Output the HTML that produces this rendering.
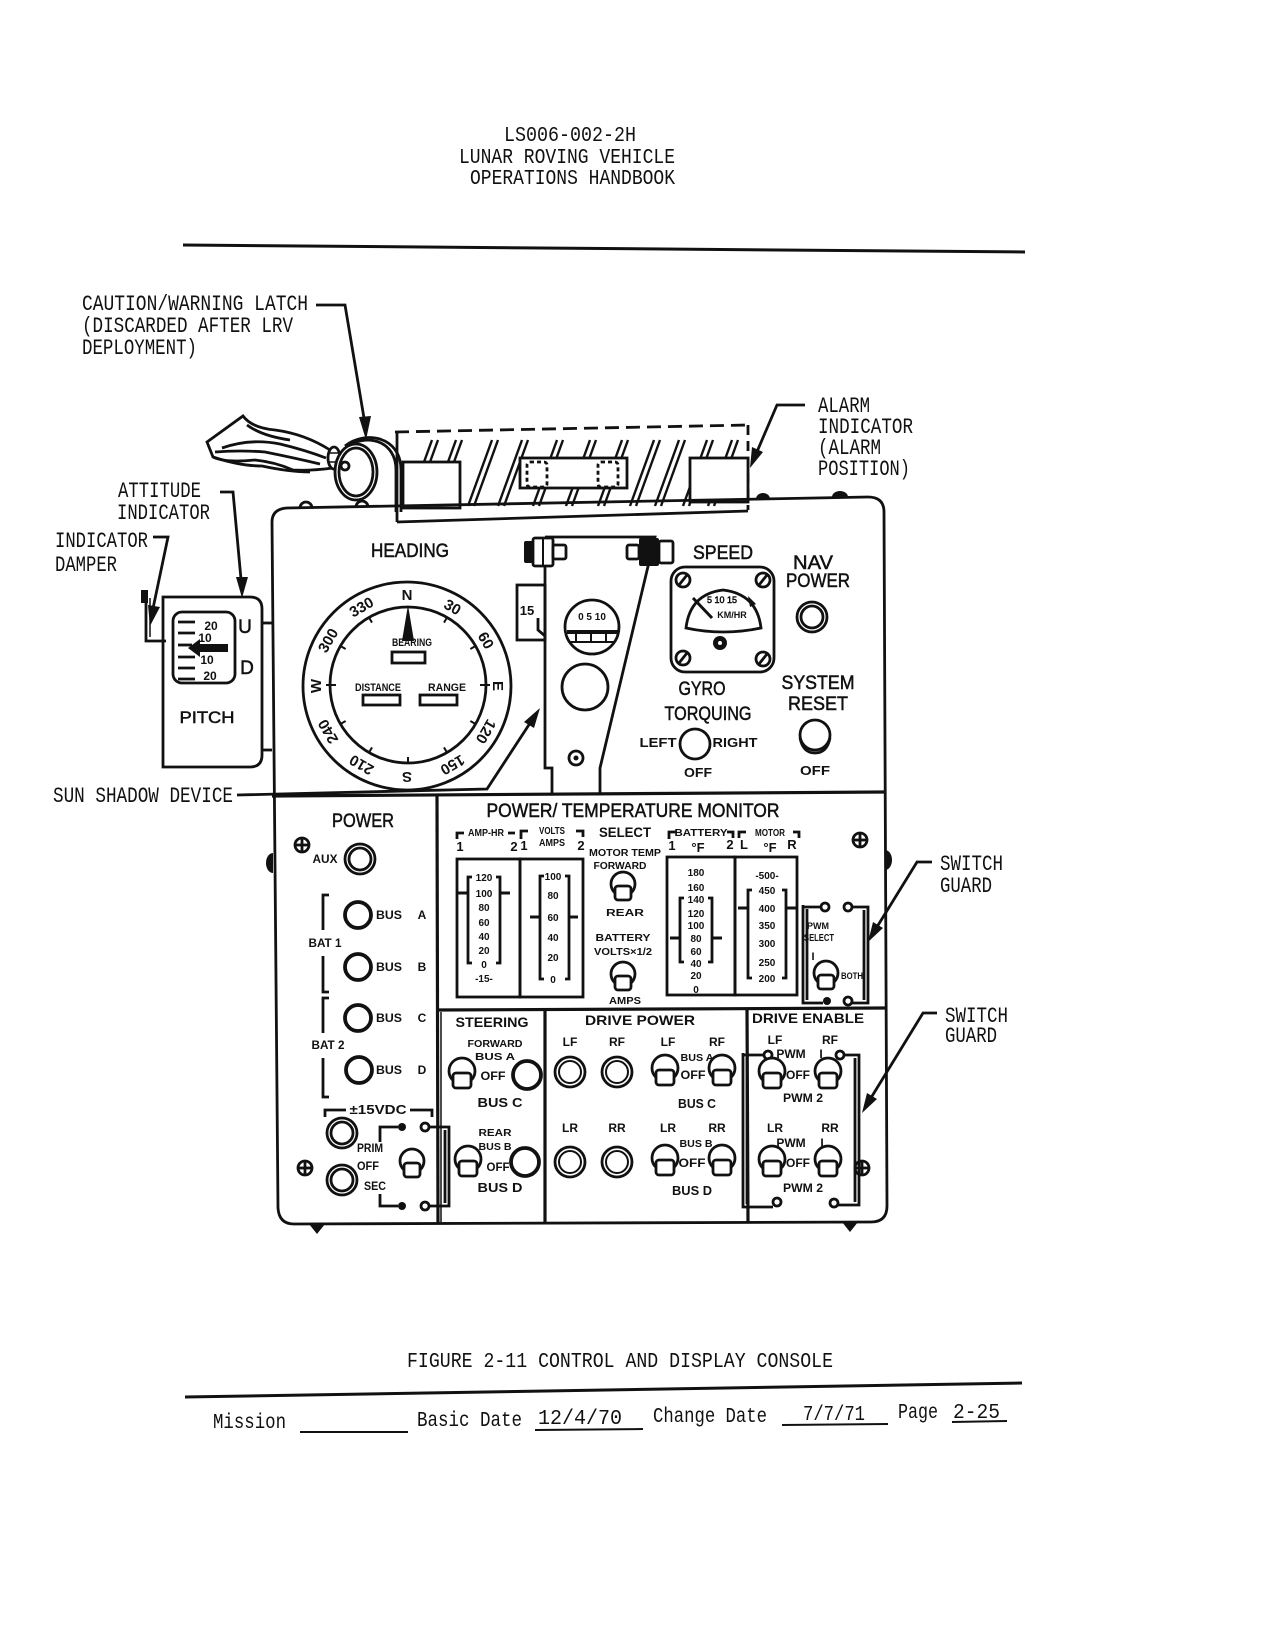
<!DOCTYPE html>
<html>
<head>
<meta charset="utf-8">
<style>
html,body{margin:0;padding:0;background:#fff;}
svg{display:block;}
.m{font-family:"Liberation Mono",monospace;font-size:21px;fill:#111;}
.ml{font-family:"Liberation Mono",monospace;font-size:22px;fill:#111;}
.s{font-family:"Liberation Sans",sans-serif;fill:#111;stroke:#111;stroke-width:0.5;}
.b{font-family:"Liberation Sans",sans-serif;fill:#111;font-weight:bold;}
.k{stroke:#111;fill:none;stroke-width:2.8;}
.w{stroke:#111;fill:#fff;stroke-width:2.8;}
.t{stroke:#111;fill:#fff;stroke-width:3.8;}
.f{fill:#111;stroke:none;}
</style>
</head>
<body>
<svg width="1275" height="1650" viewBox="0 0 1275 1650" xmlns="http://www.w3.org/2000/svg">
<rect x="0" y="0" width="1275" height="1650" fill="#fff"/>

<!-- Header -->
<text class="m" x="504" y="141" textLength="132" lengthAdjust="spacingAndGlyphs">LS006-002-2H</text>
<text class="m" x="459" y="163" textLength="216" lengthAdjust="spacingAndGlyphs">LUNAR ROVING VEHICLE</text>
<text class="m" x="470" y="184" textLength="205" lengthAdjust="spacingAndGlyphs">OPERATIONS HANDBOOK</text>
<line x1="183" y1="245" x2="1025" y2="252" stroke="#111" stroke-width="3"/>

<!-- Callout labels -->
<text class="ml" x="82" y="310" textLength="226" lengthAdjust="spacingAndGlyphs">CAUTION/WARNING LATCH</text>
<text class="ml" x="82" y="332" textLength="211" lengthAdjust="spacingAndGlyphs">(DISCARDED AFTER LRV</text>
<text class="ml" x="82" y="354" textLength="115" lengthAdjust="spacingAndGlyphs">DEPLOYMENT)</text>
<polyline points="316,305 345,305 366,430" class="k"/>
<polygon points="366,440 359,417 371,416" class="f"/>

<text class="ml" x="118" y="497" textLength="83" lengthAdjust="spacingAndGlyphs">ATTITUDE</text>
<text class="ml" x="117" y="519" textLength="93" lengthAdjust="spacingAndGlyphs">INDICATOR</text>
<polyline points="220,492 233,492 242,590" class="k"/>
<polygon points="242,598 236,577 248,577" class="f"/>

<text class="ml" x="55" y="547" textLength="93" lengthAdjust="spacingAndGlyphs">INDICATOR</text>
<text class="ml" x="55" y="571" textLength="62" lengthAdjust="spacingAndGlyphs">DAMPER</text>
<polyline points="153,537 168,537 151,618" class="k"/>
<polygon points="150,626 160,607 148,605" class="f"/>

<text class="ml" x="53" y="802" textLength="180" lengthAdjust="spacingAndGlyphs">SUN SHADOW DEVICE</text>
<polyline points="237,795 487,789 536,714" class="k"/>
<polygon points="540,708 534,728 524,722" class="f"/>

<text class="ml" x="818" y="412" textLength="52" lengthAdjust="spacingAndGlyphs">ALARM</text>
<text class="ml" x="818" y="433" textLength="95" lengthAdjust="spacingAndGlyphs">INDICATOR</text>
<text class="ml" x="818" y="454" textLength="63" lengthAdjust="spacingAndGlyphs">(ALARM</text>
<text class="ml" x="818" y="475" textLength="92" lengthAdjust="spacingAndGlyphs">POSITION)</text>
<polyline points="805,405 777,405 753,461" class="k"/>
<polygon points="750,468 763,452 752,447" class="f"/>

<text class="ml" x="940" y="870" textLength="63" lengthAdjust="spacingAndGlyphs">SWITCH</text>
<text class="ml" x="940" y="892" textLength="52" lengthAdjust="spacingAndGlyphs">GUARD</text>
<polyline points="932,862 917,862 872,935" class="k"/>
<polygon points="868,942 883,928 873,922" class="f"/>

<text class="ml" x="945" y="1022" textLength="63" lengthAdjust="spacingAndGlyphs">SWITCH</text>
<text class="ml" x="945" y="1042" textLength="52" lengthAdjust="spacingAndGlyphs">GUARD</text>
<polyline points="937,1013 923,1013 866,1106" class="k"/>
<polygon points="862,1113 877,1099 867,1093" class="f"/>

<!-- Ribbon / latch -->
<path d="M207 442 L243 416 Q252 428 275 430 Q305 434 330 450 L333 468 Q310 471 293 470 Q275 462 255 460 Q225 463 213 457 Z" class="w" stroke-width="3"/>
<path d="M222 448 Q250 438 280 444 Q305 450 326 458" class="k" stroke-width="2"/>
<path d="M215 452 Q240 450 265 452 Q295 458 320 464" class="k" stroke-width="2"/>
<path d="M247 425 Q262 436 290 440" class="k" stroke-width="1.8"/>
<path d="M213 457 Q240 466 262 466 Q290 472 310 472" class="k" stroke-width="3"/>
<ellipse cx="334" cy="458" rx="6" ry="11" class="w"/>
<line x1="329" y1="453" x2="339" y2="453" stroke="#111" stroke-width="1.5"/>
<line x1="329" y1="462" x2="339" y2="462" stroke="#111" stroke-width="1.5"/>
<path d="M345 446 C365 430 401 436 401 470 L401 512" class="k"/>
<path d="M350 445 C368 434 396 441 396 470 L396 512" class="k" stroke-width="2"/>
<ellipse cx="356" cy="472" rx="21" ry="28" class="w"/>
<ellipse cx="356" cy="472" rx="17" ry="24" class="k" stroke-width="2"/>
<circle cx="345" cy="466" r="4" class="w" stroke-width="2"/>

<!-- Alarm housing -->
<g stroke="#111" stroke-width="2.8" fill="none">
<line x1="395" y1="432" x2="748" y2="425" stroke-dasharray="14 7"/>
<line x1="748" y1="425" x2="748" y2="510" stroke-dasharray="10 6"/>
<line x1="397" y1="432" x2="397" y2="522"/>
<line x1="397" y1="522" x2="748" y2="511"/>
</g>
<g stroke="#111" stroke-width="2.4">
<line x1="408" y1="506" x2="432" y2="440"/><line x1="414" y1="506" x2="438" y2="440"/>
<line x1="432" y1="506" x2="456" y2="440"/><line x1="438" y1="506" x2="462" y2="440"/>
<line x1="468" y1="506" x2="492" y2="440"/><line x1="474" y1="506" x2="498" y2="440"/>
<line x1="498" y1="506" x2="522" y2="440"/><line x1="504" y1="506" x2="528" y2="440"/>
<line x1="533" y1="506" x2="557" y2="440"/><line x1="539" y1="506" x2="563" y2="440"/>
<line x1="566" y1="506" x2="590" y2="440"/><line x1="572" y1="506" x2="596" y2="440"/>
<line x1="598" y1="506" x2="622" y2="440"/><line x1="604" y1="506" x2="628" y2="440"/>
<line x1="630" y1="506" x2="654" y2="440"/><line x1="636" y1="506" x2="660" y2="440"/>
<line x1="655" y1="506" x2="679" y2="440"/><line x1="661" y1="506" x2="685" y2="440"/>
<line x1="683" y1="506" x2="707" y2="440"/><line x1="689" y1="506" x2="713" y2="440"/>
<line x1="708" y1="506" x2="732" y2="440"/><line x1="714" y1="506" x2="738" y2="440"/>
</g>
<rect x="403" y="462" width="57" height="46" class="w"/>
<rect x="690" y="458" width="58" height="44" class="w"/>
<rect x="520" y="458" width="107" height="30" class="w"/>
<rect x="527" y="462" width="20" height="25" rx="3" class="k" stroke-width="2" stroke-dasharray="4 3"/>
<rect x="598" y="462" width="20" height="25" rx="3" class="k" stroke-width="2" stroke-dasharray="4 3"/>

<!-- Console outline -->
<path d="M287 508 L868 497 Q884 497 884 512 L887 1206 Q887 1222 871 1222 L294 1224 Q279 1224 278 1208 L272 522 Q272 509 287 508 Z" class="k" stroke-width="3.2"/>
<path d="M300 508 A6 6 0 0 1 312 508" class="k"/>
<path d="M356 507 A6 6 0 0 1 368 507" class="k"/>
<path d="M756 499 A7 6 0 0 1 770 499" class="f"/>
<path d="M832 497 A8 6 0 0 1 848 497" class="f"/>
<path d="M885 850 A7 10 0 0 1 885 870 Z" class="f"/>
<path d="M273 853 A7 10 0 0 0 273 873 Z" class="f"/>
<path d="M309 1224 L325 1224 L317 1234 Z" class="f"/>
<path d="M842 1222 L858 1222 L850 1232 Z" class="f"/>

<!-- Dividers -->
<g stroke="#111" stroke-width="3.2">
<line x1="272" y1="796" x2="884" y2="792"/>
<line x1="437" y1="795" x2="438" y2="1224"/>
<line x1="437" y1="1010" x2="885" y2="1008"/>
<line x1="545" y1="1010" x2="545" y2="1223"/>
<line x1="747" y1="1008" x2="748" y2="1223"/>
</g>
<line x1="441" y1="1012" x2="441" y2="1222" stroke="#111" stroke-width="1.5"/>

<!-- Attitude indicator -->
<path d="M163 597 L250 597 Q262 597 262 609 L262 755 Q262 767 250 767 L163 767 Z" class="w" stroke-width="3.2"/>
<line x1="262" y1="623" x2="272" y2="623" stroke="#111" stroke-width="2.8"/>
<line x1="262" y1="750" x2="272" y2="750" stroke="#111" stroke-width="2.8"/>
<rect x="173" y="612" width="62" height="71" rx="9" class="k"/>
<g stroke="#111" stroke-width="2.8">
<line x1="178" y1="622" x2="195" y2="622"/><line x1="178" y1="633" x2="195" y2="633"/>
<line x1="178" y1="645" x2="192" y2="645"/><line x1="178" y1="657" x2="195" y2="657"/>
<line x1="178" y1="668" x2="195" y2="668"/><line x1="178" y1="679" x2="195" y2="679"/>
</g>
<polygon points="188,648 200,639 200,644 228,644 228,652 200,652 200,657" class="f"/>
<text class="b" x="211" y="630" font-size="12" text-anchor="middle">20</text>
<text class="b" x="205" y="642" font-size="12" text-anchor="middle">10</text>
<text class="b" x="207" y="664" font-size="12" text-anchor="middle">10</text>
<text class="b" x="210" y="680" font-size="12" text-anchor="middle">20</text>
<text class="s" x="245" y="633" font-size="19" text-anchor="middle">U</text>
<text class="s" x="247" y="674" font-size="19" text-anchor="middle">D</text>
<text class="s" x="207" y="723" font-size="17" text-anchor="middle" textLength="55" lengthAdjust="spacingAndGlyphs">PITCH</text>
<path d="M146 592 L146 641 L166 641" class="k"/>
<line x1="150" y1="598" x2="150" y2="637" stroke="#111" stroke-width="1.5"/>
<rect x="141" y="590" width="7" height="13" class="f"/>

<!-- Heading / compass -->
<text class="s" x="410" y="557" font-size="19" text-anchor="middle" textLength="78" lengthAdjust="spacingAndGlyphs">HEADING</text>
<circle cx="407" cy="686" r="104" class="k" stroke-width="3.2"/>
<circle cx="408" cy="685" r="78" class="k" stroke-width="2.8"/>
<g stroke="#111" stroke-width="2">
<line x1="408" y1="607" x2="408" y2="613" transform="rotate(30 408 685)"/>
<line x1="408" y1="607" x2="408" y2="613" transform="rotate(60 408 685)"/>
<line x1="408" y1="603" x2="408" y2="613" transform="rotate(90 408 685)"/>
<line x1="408" y1="607" x2="408" y2="613" transform="rotate(120 408 685)"/>
<line x1="408" y1="607" x2="408" y2="613" transform="rotate(150 408 685)"/>
<line x1="408" y1="607" x2="408" y2="613" transform="rotate(180 408 685)"/>
<line x1="408" y1="607" x2="408" y2="613" transform="rotate(210 408 685)"/>
<line x1="408" y1="607" x2="408" y2="613" transform="rotate(240 408 685)"/>
<line x1="408" y1="603" x2="408" y2="613" transform="rotate(270 408 685)"/>
<line x1="408" y1="607" x2="408" y2="613" transform="rotate(300 408 685)"/>
<line x1="408" y1="607" x2="408" y2="613" transform="rotate(330 408 685)"/>
</g>
<g class="b" font-size="15" text-anchor="middle">
<text x="407" y="600">N</text>
<text x="407" y="600" transform="rotate(30 407 686)">30</text>
<text x="407" y="600" transform="rotate(60 407 686)">60</text>
<text x="407" y="600" transform="rotate(90 407 686)">E</text>
<text x="407" y="600" transform="rotate(120 407 686)">120</text>
<text x="407" y="600" transform="rotate(150 407 686)">150</text>
<text x="407" y="600" transform="rotate(180 407 686)">S</text>
<text x="407" y="600" transform="rotate(210 407 686)">210</text>
<text x="407" y="600" transform="rotate(240 407 686)">240</text>
<text x="407" y="600" transform="rotate(270 407 686)">W</text>
<text x="407" y="600" transform="rotate(300 407 686)">300</text>
<text x="407" y="600" transform="rotate(330 407 686)">330</text>
</g>
<polygon points="408,605 402,641 414,641" class="f"/>
<text class="b" x="412" y="646" font-size="11" text-anchor="middle" textLength="40" lengthAdjust="spacingAndGlyphs">BEARING</text>
<rect x="392" y="652" width="33" height="11" class="k" stroke-width="2.2"/>
<text class="b" x="378" y="691" font-size="11" text-anchor="middle" textLength="46" lengthAdjust="spacingAndGlyphs">DISTANCE</text>
<rect x="363" y="695" width="37" height="10" class="k" stroke-width="2.2"/>
<text class="b" x="447" y="691" font-size="11" text-anchor="middle" textLength="38" lengthAdjust="spacingAndGlyphs">RANGE</text>
<rect x="420" y="695" width="37" height="10" class="k" stroke-width="2.2"/>

<!-- 15 box -->
<rect x="517" y="585" width="28" height="55" class="k"/>
<text class="b" x="527" y="615" font-size="13" text-anchor="middle">15</text>
<path d="M538 618 L538 630 L545 636" class="k" stroke-width="2"/>

<!-- Sun shadow plate -->
<path d="M545 537 L655 537 L600 768 L600 795 M545 537 L545 768 L552 768 L552 795" class="k" stroke-width="2.8"/>
<rect x="524" y="541" width="9" height="22" rx="2" class="f"/>
<rect x="533" y="538" width="20" height="28" rx="2" class="w" stroke-width="3"/>
<line x1="543" y1="538" x2="543" y2="566" stroke="#111" stroke-width="2"/>
<rect x="553" y="545" width="13" height="14" rx="2" class="w"/>
<rect x="627" y="545" width="12" height="14" rx="2" class="w"/>
<rect x="639" y="538" width="20" height="28" rx="2" class="f"/>
<rect x="659" y="541" width="14" height="22" rx="2" class="w" stroke-width="3"/>
<circle cx="592" cy="627" r="27" class="w" stroke-width="3.2"/>
<text class="b" x="592" y="620" font-size="10" text-anchor="middle">0  5 10</text>
<line x1="567" y1="632" x2="618" y2="632" stroke="#111" stroke-width="4"/>
<g stroke="#111" stroke-width="2"><line x1="576" y1="632" x2="576" y2="642"/><line x1="591" y1="632" x2="591" y2="642"/><line x1="606" y1="632" x2="606" y2="642"/><line x1="570" y1="642" x2="614" y2="642"/></g>
<circle cx="585" cy="687" r="23" class="k"/>
<circle cx="576" cy="758" r="7" class="k"/>
<circle cx="576" cy="758" r="2.5" class="f"/>

<!-- Speed gauge -->
<text class="s" x="723" y="559" font-size="19" text-anchor="middle" textLength="60" lengthAdjust="spacingAndGlyphs">SPEED</text>
<rect x="671" y="567" width="103" height="105" rx="14" class="k" stroke-width="3.2"/>
<g class="k" stroke-width="2.4">
<circle cx="683" cy="580" r="7"/><line x1="679" y1="585" x2="687" y2="575"/>
<circle cx="763" cy="580" r="7"/><line x1="759" y1="585" x2="767" y2="575"/>
<circle cx="683" cy="658" r="7"/><line x1="679" y1="663" x2="687" y2="653"/>
<circle cx="763" cy="659" r="7"/><line x1="759" y1="664" x2="767" y2="654"/>
</g>
<path d="M686 628 Q690 594 723 590 Q757 594 761 628 Q723 636 686 628 Z" class="k" stroke-width="2.8"/>
<text class="s" x="722" y="603" font-size="9" text-anchor="middle" stroke-width="0.2">5 10 15</text>
<text class="b" x="732" y="618" font-size="9" text-anchor="middle">KM/HR</text>
<line x1="693" y1="598" x2="712" y2="618" stroke="#111" stroke-width="3"/>
<polygon points="748,596 756,604 750,607" class="f"/>
<circle cx="720" cy="643" r="7" class="f"/>
<circle cx="720" cy="643" r="2" fill="#fff"/>

<!-- Nav power / system reset / gyro -->
<text class="s" x="813" y="569" font-size="19" text-anchor="middle" textLength="40" lengthAdjust="spacingAndGlyphs">NAV</text>
<text class="s" x="818" y="587" font-size="19" text-anchor="middle" textLength="64" lengthAdjust="spacingAndGlyphs">POWER</text>
<circle cx="812" cy="617" r="15" class="k"/>
<circle cx="812" cy="617" r="11" class="k" stroke-width="2"/>
<text class="s" x="702" y="695" font-size="19" text-anchor="middle" textLength="47" lengthAdjust="spacingAndGlyphs">GYRO</text>
<text class="s" x="708" y="720" font-size="19" text-anchor="middle" textLength="87" lengthAdjust="spacingAndGlyphs">TORQUING</text>
<text class="s" x="818" y="689" font-size="19" text-anchor="middle" textLength="73" lengthAdjust="spacingAndGlyphs">SYSTEM</text>
<text class="s" x="818" y="710" font-size="19" text-anchor="middle" textLength="60" lengthAdjust="spacingAndGlyphs">RESET</text>
<text class="b" x="658" y="747" font-size="13" text-anchor="middle" textLength="37" lengthAdjust="spacingAndGlyphs">LEFT</text>
<circle cx="695" cy="744" r="15" class="k"/>
<text class="b" x="735" y="747" font-size="13" text-anchor="middle" textLength="45" lengthAdjust="spacingAndGlyphs">RIGHT</text>
<text class="b" x="698" y="777" font-size="13" text-anchor="middle" textLength="28" lengthAdjust="spacingAndGlyphs">OFF</text>
<circle cx="815" cy="735" r="15" class="k"/>
<path d="M800 738 Q803 753 815 753 Q827 753 830 738" class="k" stroke-width="3.8"/>
<text class="b" x="815" y="775" font-size="13" text-anchor="middle" textLength="30" lengthAdjust="spacingAndGlyphs">OFF</text>

<!-- Power section -->
<text class="s" x="363" y="827" font-size="19" text-anchor="middle" textLength="62" lengthAdjust="spacingAndGlyphs">POWER</text>
<g class="k" stroke-width="2">
<circle cx="302" cy="845" r="7"/><line x1="295" y1="845" x2="309" y2="845"/><line x1="302" y1="838" x2="302" y2="852"/>
<circle cx="305" cy="1168" r="7"/><line x1="298" y1="1168" x2="312" y2="1168"/><line x1="305" y1="1161" x2="305" y2="1175"/>
<circle cx="860" cy="840" r="7"/><line x1="853" y1="840" x2="867" y2="840"/><line x1="860" y1="833" x2="860" y2="847"/>
<circle cx="862" cy="1168" r="7"/><line x1="855" y1="1168" x2="869" y2="1168"/><line x1="862" y1="1161" x2="862" y2="1175"/>
</g>
<text class="b" x="325" y="863" font-size="12" text-anchor="middle" textLength="25" lengthAdjust="spacingAndGlyphs">AUX</text>
<circle cx="360" cy="859" r="15" class="k"/>
<circle cx="360" cy="859" r="11" class="k" stroke-width="2"/>
<circle cx="358" cy="915" r="13" class="t"/>
<circle cx="358" cy="967" r="13" class="t"/>
<circle cx="358" cy="1018" r="13" class="t"/>
<circle cx="359" cy="1070" r="13" class="t"/>
<g class="b" font-size="12" text-anchor="middle">
<text x="389" y="919" textLength="26" lengthAdjust="spacingAndGlyphs">BUS</text><text x="422" y="919">A</text>
<text x="389" y="971" textLength="26" lengthAdjust="spacingAndGlyphs">BUS</text><text x="422" y="971">B</text>
<text x="389" y="1022" textLength="26" lengthAdjust="spacingAndGlyphs">BUS</text><text x="422" y="1022">C</text>
<text x="389" y="1074" textLength="26" lengthAdjust="spacingAndGlyphs">BUS</text><text x="422" y="1074">D</text>
<text x="325" y="947" textLength="33" lengthAdjust="spacingAndGlyphs">BAT 1</text>
<text x="328" y="1049" textLength="33" lengthAdjust="spacingAndGlyphs">BAT 2</text>
</g>
<path d="M329 895 L323 895 L323 930 M323 956 L323 992 L329 992" class="k"/>
<path d="M329 998 L323 998 L323 1033 M323 1058 L323 1097 L329 1097" class="k"/>
<text class="b" x="378" y="1114" font-size="13" text-anchor="middle" textLength="57" lengthAdjust="spacingAndGlyphs">±15VDC</text>
<path d="M325 1117 L325 1110 L346 1110 M410 1110 L432 1110 L432 1117" class="k" stroke-width="2"/>
<circle cx="342" cy="1133" r="15" class="k"/>
<circle cx="342" cy="1133" r="11" class="k" stroke-width="2"/>
<circle cx="342" cy="1180" r="15" class="k"/>
<circle cx="342" cy="1180" r="11" class="k" stroke-width="2"/>
<text class="b" x="370" y="1152" font-size="12" text-anchor="middle" textLength="26" lengthAdjust="spacingAndGlyphs">PRIM</text>
<text class="b" x="368" y="1170" font-size="12" text-anchor="middle" textLength="22" lengthAdjust="spacingAndGlyphs">OFF</text>
<text class="b" x="375" y="1190" font-size="12" text-anchor="middle" textLength="22" lengthAdjust="spacingAndGlyphs">SEC</text>
<!-- guard left power -->
<path d="M380 1142 L380 1127 L398 1127 M380 1194 L380 1206 L398 1206" class="k"/>
<circle cx="402" cy="1127" r="4" class="f"/><circle cx="402" cy="1206" r="4" class="f"/>
<circle cx="425" cy="1127" r="4" class="k" stroke-width="2"/><circle cx="425" cy="1206" r="4" class="k" stroke-width="2"/>
<path d="M429 1127 L449 1127 L449 1206 L429 1206 M445 1130 L445 1203" class="k"/>
<circle cx="412" cy="1161" r="12" class="w"/><rect x="404" y="1163" width="16" height="14" rx="3" class="w"/>

<!-- Power/Temperature monitor -->
<text class="s" x="633" y="817" font-size="19" text-anchor="middle" textLength="293" lengthAdjust="spacingAndGlyphs">POWER/ TEMPERATURE MONITOR</text>
<g class="b" font-size="10" text-anchor="middle">
<text x="486" y="836" textLength="36" lengthAdjust="spacingAndGlyphs">AMP-HR</text>
<text x="552" y="834" textLength="26" lengthAdjust="spacingAndGlyphs">VOLTS</text>
<text x="552" y="846" textLength="26" lengthAdjust="spacingAndGlyphs">AMPS</text>
<text x="625" y="856" textLength="72" lengthAdjust="spacingAndGlyphs">MOTOR TEMP</text>
<text x="620" y="869" textLength="53" lengthAdjust="spacingAndGlyphs">FORWARD</text>
<text x="625" y="916" textLength="38" lengthAdjust="spacingAndGlyphs">REAR</text>
<text x="623" y="941" textLength="55" lengthAdjust="spacingAndGlyphs">BATTERY</text>
<text x="623" y="955" textLength="58" lengthAdjust="spacingAndGlyphs">VOLTS×1/2</text>
<text x="625" y="1004" textLength="32" lengthAdjust="spacingAndGlyphs">AMPS</text>
<text x="701" y="836" textLength="53" lengthAdjust="spacingAndGlyphs">BATTERY</text>
<text x="770" y="836" textLength="30" lengthAdjust="spacingAndGlyphs">MOTOR</text>
</g>
<g class="b" font-size="13" text-anchor="middle">
<text x="460" y="851">1</text><text x="514" y="851">2</text>
<text x="524" y="850">1</text><text x="581" y="850">2</text>
<text x="672" y="850">1</text><text x="698" y="852">°F</text><text x="730" y="849">2</text>
<text x="744" y="849">L</text><text x="770" y="852">°F</text><text x="792" y="849">R</text>
</g>
<path d="M457 839 L457 833 L464 833 M508 833 L515 833 M521 839 L521 831 L528 831 M576 831 L583 831 L583 837 M669 839 L669 832 L676 832 M727 832 L733 832 L733 838 M739 838 L739 832 L746 832 M793 832 L799 832 L799 838" class="k" stroke-width="1.8"/>
<text class="b" x="625" y="837" font-size="14" text-anchor="middle" textLength="52" lengthAdjust="spacingAndGlyphs">SELECT</text>
<circle cx="623" cy="884" r="12" class="w"/><rect x="615" y="886" width="16" height="14" rx="3" class="w"/>
<circle cx="623" cy="974" r="12" class="w"/><rect x="615" y="976" width="16" height="14" rx="3" class="w"/>

<rect x="457" y="859" width="63" height="138" class="k"/>
<rect x="520" y="859" width="63" height="138" class="k"/>
<rect x="667" y="857" width="68" height="138" class="k"/>
<rect x="735" y="857" width="62" height="138" class="k"/>
<g class="b" font-size="10" text-anchor="middle">
<text x="484" y="881">120</text><text x="484" y="897">100</text><text x="484" y="911">80</text><text x="484" y="926">60</text><text x="484" y="940">40</text><text x="484" y="954">20</text><text x="484" y="968">0</text><text x="484" y="982">-15-</text>
<text x="553" y="880">100</text><text x="553" y="899">80</text><text x="553" y="921">60</text><text x="553" y="941">40</text><text x="553" y="961">20</text><text x="553" y="983">0</text>
<text x="696" y="876">180</text><text x="696" y="891">160</text><text x="696" y="903">140</text><text x="696" y="917">120</text><text x="696" y="929">100</text><text x="696" y="942">80</text><text x="696" y="955">60</text><text x="696" y="967">40</text><text x="696" y="979">20</text><text x="696" y="993">0</text>
<text x="767" y="879">-500-</text><text x="767" y="894">450</text><text x="767" y="912">400</text><text x="767" y="929">350</text><text x="767" y="947">300</text><text x="767" y="966">250</text><text x="767" y="982">200</text>
</g>
<g class="k" stroke-width="2">
<path d="M472 877 L468 877 L468 963 L472 963 M496 877 L500 877 L500 963 L496 963"/>
<path d="M544 876 L540 876 L540 979 L544 979 M565 876 L569 876 L569 979 L565 979"/>
<path d="M684 898 L680 898 L680 962 L684 962 M708 898 L712 898 L712 962 L708 962"/>
<path d="M752 890 L748 890 L748 978 L752 978 M782 890 L786 890 L786 978 L782 978"/>
</g>
<g stroke="#111" stroke-width="3">
<line x1="457" y1="893" x2="468" y2="893"/><line x1="500" y1="893" x2="510" y2="893"/>
<line x1="530" y1="917" x2="540" y2="917"/><line x1="569" y1="917" x2="578" y2="917"/>
<line x1="670" y1="938" x2="680" y2="938"/><line x1="712" y1="938" x2="722" y2="938"/>
<line x1="738" y1="908" x2="748" y2="908"/><line x1="786" y1="908" x2="796" y2="908"/>
</g>
<!-- PWM select guard -->
<path d="M803 905 L803 1003 L823 1003 M807 909 L807 1000 M803 907 L821 907" class="k"/>
<circle cx="825" cy="907" r="4" class="k" stroke-width="2"/>
<circle cx="848" cy="907" r="4" class="k" stroke-width="2"/>
<path d="M852 907 L868 907 L868 1003 L852 1003 M864 910 L864 1000" class="k"/>
<circle cx="827" cy="1001" r="4" class="f"/><circle cx="848" cy="1001" r="4" class="k" stroke-width="2"/>
<text class="b" x="818" y="929" font-size="9" text-anchor="middle">PWM</text>
<text class="b" x="819" y="941" font-size="10" text-anchor="middle" textLength="30" lengthAdjust="spacingAndGlyphs">SELECT</text>
<text class="b" x="813" y="960" font-size="11" text-anchor="middle">I</text>
<text class="b" x="852" y="979" font-size="9" text-anchor="middle" textLength="22" lengthAdjust="spacingAndGlyphs">BOTH</text>
<circle cx="826" cy="973" r="12" class="w"/><rect x="818" y="975" width="16" height="14" rx="3" class="w"/>

<!-- Steering -->
<g class="b" text-anchor="middle">
<text x="492" y="1027" font-size="14" textLength="73" lengthAdjust="spacingAndGlyphs">STEERING</text>
<text x="495" y="1047" font-size="10" textLength="55" lengthAdjust="spacingAndGlyphs">FORWARD</text>
<text x="495" y="1060" font-size="10" textLength="40" lengthAdjust="spacingAndGlyphs">BUS A</text>
<text x="493" y="1080" font-size="12" textLength="25" lengthAdjust="spacingAndGlyphs">OFF</text>
<text x="500" y="1107" font-size="13" textLength="45" lengthAdjust="spacingAndGlyphs">BUS C</text>
<text x="495" y="1136" font-size="10" textLength="33" lengthAdjust="spacingAndGlyphs">REAR</text>
<text x="495" y="1150" font-size="10" textLength="33" lengthAdjust="spacingAndGlyphs">BUS B</text>
<text x="498" y="1171" font-size="12" textLength="23" lengthAdjust="spacingAndGlyphs">OFF</text>
<text x="500" y="1192" font-size="13" textLength="45" lengthAdjust="spacingAndGlyphs">BUS D</text>
</g>
<circle cx="462" cy="1071" r="13" class="w"/><rect x="453" y="1073" width="18" height="15" rx="3" class="w"/>
<circle cx="527" cy="1075" r="14" class="t"/>
<circle cx="468" cy="1159" r="13" class="w"/><rect x="459" y="1161" width="18" height="15" rx="3" class="w"/>
<circle cx="525" cy="1162" r="14" class="t"/>

<!-- Drive power -->
<g class="b" text-anchor="middle">
<text x="640" y="1025" font-size="14" textLength="110" lengthAdjust="spacingAndGlyphs">DRIVE  POWER</text>
<text x="570" y="1046" font-size="12">LF</text><text x="617" y="1046" font-size="12">RF</text>
<text x="668" y="1046" font-size="12">LF</text><text x="717" y="1046" font-size="12">RF</text>
<text x="697" y="1061" font-size="10" textLength="33" lengthAdjust="spacingAndGlyphs">BUS A</text>
<text x="693" y="1079" font-size="12" textLength="25" lengthAdjust="spacingAndGlyphs">OFF</text>
<text x="697" y="1108" font-size="13" textLength="38" lengthAdjust="spacingAndGlyphs">BUS C</text>
<text x="570" y="1132" font-size="12">LR</text><text x="617" y="1132" font-size="12">RR</text>
<text x="668" y="1132" font-size="12">LR</text><text x="717" y="1132" font-size="12">RR</text>
<text x="696" y="1147" font-size="10" textLength="33" lengthAdjust="spacingAndGlyphs">BUS B</text>
<text x="692" y="1167" font-size="12" textLength="27" lengthAdjust="spacingAndGlyphs">OFF</text>
<text x="692" y="1195" font-size="13" textLength="40" lengthAdjust="spacingAndGlyphs">BUS D</text>
</g>
<g class="k">
<circle cx="570" cy="1072" r="15"/><circle cx="570" cy="1072" r="11" stroke-width="2"/>
<circle cx="617" cy="1072" r="15"/><circle cx="617" cy="1072" r="11" stroke-width="2"/>
<circle cx="570" cy="1162" r="15"/><circle cx="570" cy="1162" r="11" stroke-width="2"/>
<circle cx="617" cy="1162" r="15"/><circle cx="617" cy="1162" r="11" stroke-width="2"/>
</g>
<circle cx="665" cy="1068" r="13" class="w"/><rect x="656" y="1070" width="18" height="15" rx="3" class="w"/>
<circle cx="722" cy="1068" r="13" class="w"/><rect x="713" y="1070" width="18" height="15" rx="3" class="w"/>
<circle cx="665" cy="1158" r="13" class="w"/><rect x="656" y="1160" width="18" height="15" rx="3" class="w"/>
<circle cx="722" cy="1158" r="13" class="w"/><rect x="713" y="1160" width="18" height="15" rx="3" class="w"/>

<!-- Drive enable -->
<g class="b" text-anchor="middle">
<text x="808" y="1023" font-size="14" textLength="112" lengthAdjust="spacingAndGlyphs">DRIVE ENABLE</text>
<text x="775" y="1044" font-size="12">LF</text><text x="830" y="1044" font-size="12">RF</text>
<text x="791" y="1058" font-size="12">PWM</text><text x="821" y="1058" font-size="12">I</text>
<text x="798" y="1079" font-size="12" textLength="24" lengthAdjust="spacingAndGlyphs">OFF</text>
<text x="803" y="1102" font-size="12" textLength="40" lengthAdjust="spacingAndGlyphs">PWM 2</text>
<text x="775" y="1132" font-size="12">LR</text><text x="830" y="1132" font-size="12">RR</text>
<text x="791" y="1147" font-size="12">PWM</text><text x="822" y="1147" font-size="12">I</text>
<text x="798" y="1167" font-size="12" textLength="24" lengthAdjust="spacingAndGlyphs">OFF</text>
<text x="803" y="1192" font-size="12" textLength="40" lengthAdjust="spacingAndGlyphs">PWM 2</text>
</g>
<path d="M743 1053 L743 1207 L773 1207 M747 1058 L747 1204 M743 1055 L764 1055" class="k"/>
<circle cx="768" cy="1055" r="4" class="k" stroke-width="2"/>
<circle cx="777" cy="1202" r="4" class="k" stroke-width="2"/>
<circle cx="840" cy="1055" r="4" class="k" stroke-width="2"/>
<circle cx="834" cy="1203" r="4" class="k" stroke-width="2"/>
<path d="M844 1055 L859 1055 L859 1205 L838 1205 M855 1058 L855 1202" class="k"/>
<circle cx="772" cy="1071" r="13" class="w"/><rect x="763" y="1073" width="18" height="15" rx="3" class="w"/>
<circle cx="828" cy="1071" r="13" class="w"/><rect x="819" y="1073" width="18" height="15" rx="3" class="w"/>
<circle cx="772" cy="1159" r="13" class="w"/><rect x="763" y="1161" width="18" height="15" rx="3" class="w"/>
<circle cx="828" cy="1159" r="13" class="w"/><rect x="819" y="1161" width="18" height="15" rx="3" class="w"/>

<!-- Footer -->
<text class="m" x="407" y="1367" textLength="426" lengthAdjust="spacingAndGlyphs">FIGURE 2-11  CONTROL AND DISPLAY CONSOLE</text>
<line x1="185" y1="1397" x2="1022" y2="1383" stroke="#111" stroke-width="3"/>
<text class="m" x="213" y="1428" textLength="73" lengthAdjust="spacingAndGlyphs">Mission</text>
<line x1="300" y1="1432" x2="408" y2="1432" stroke="#111" stroke-width="2"/>
<text class="m" x="417" y="1426" textLength="105" lengthAdjust="spacingAndGlyphs">Basic Date</text>
<text class="m" x="538" y="1424" textLength="84" lengthAdjust="spacingAndGlyphs">12/4/70</text>
<line x1="535" y1="1430" x2="643" y2="1429" stroke="#111" stroke-width="2"/>
<text class="m" x="653" y="1422" textLength="114" lengthAdjust="spacingAndGlyphs">Change Date</text>
<text class="m" x="803" y="1420" textLength="62" lengthAdjust="spacingAndGlyphs">7/7/71</text>
<line x1="782" y1="1425" x2="888" y2="1424" stroke="#111" stroke-width="2"/>
<text class="m" x="898" y="1418" textLength="40" lengthAdjust="spacingAndGlyphs">Page</text>
<text class="m" x="953" y="1418" textLength="47" lengthAdjust="spacingAndGlyphs">2-25</text>
<line x1="952" y1="1422" x2="1007" y2="1421" stroke="#111" stroke-width="2"/>
</svg>
</body>
</html>
